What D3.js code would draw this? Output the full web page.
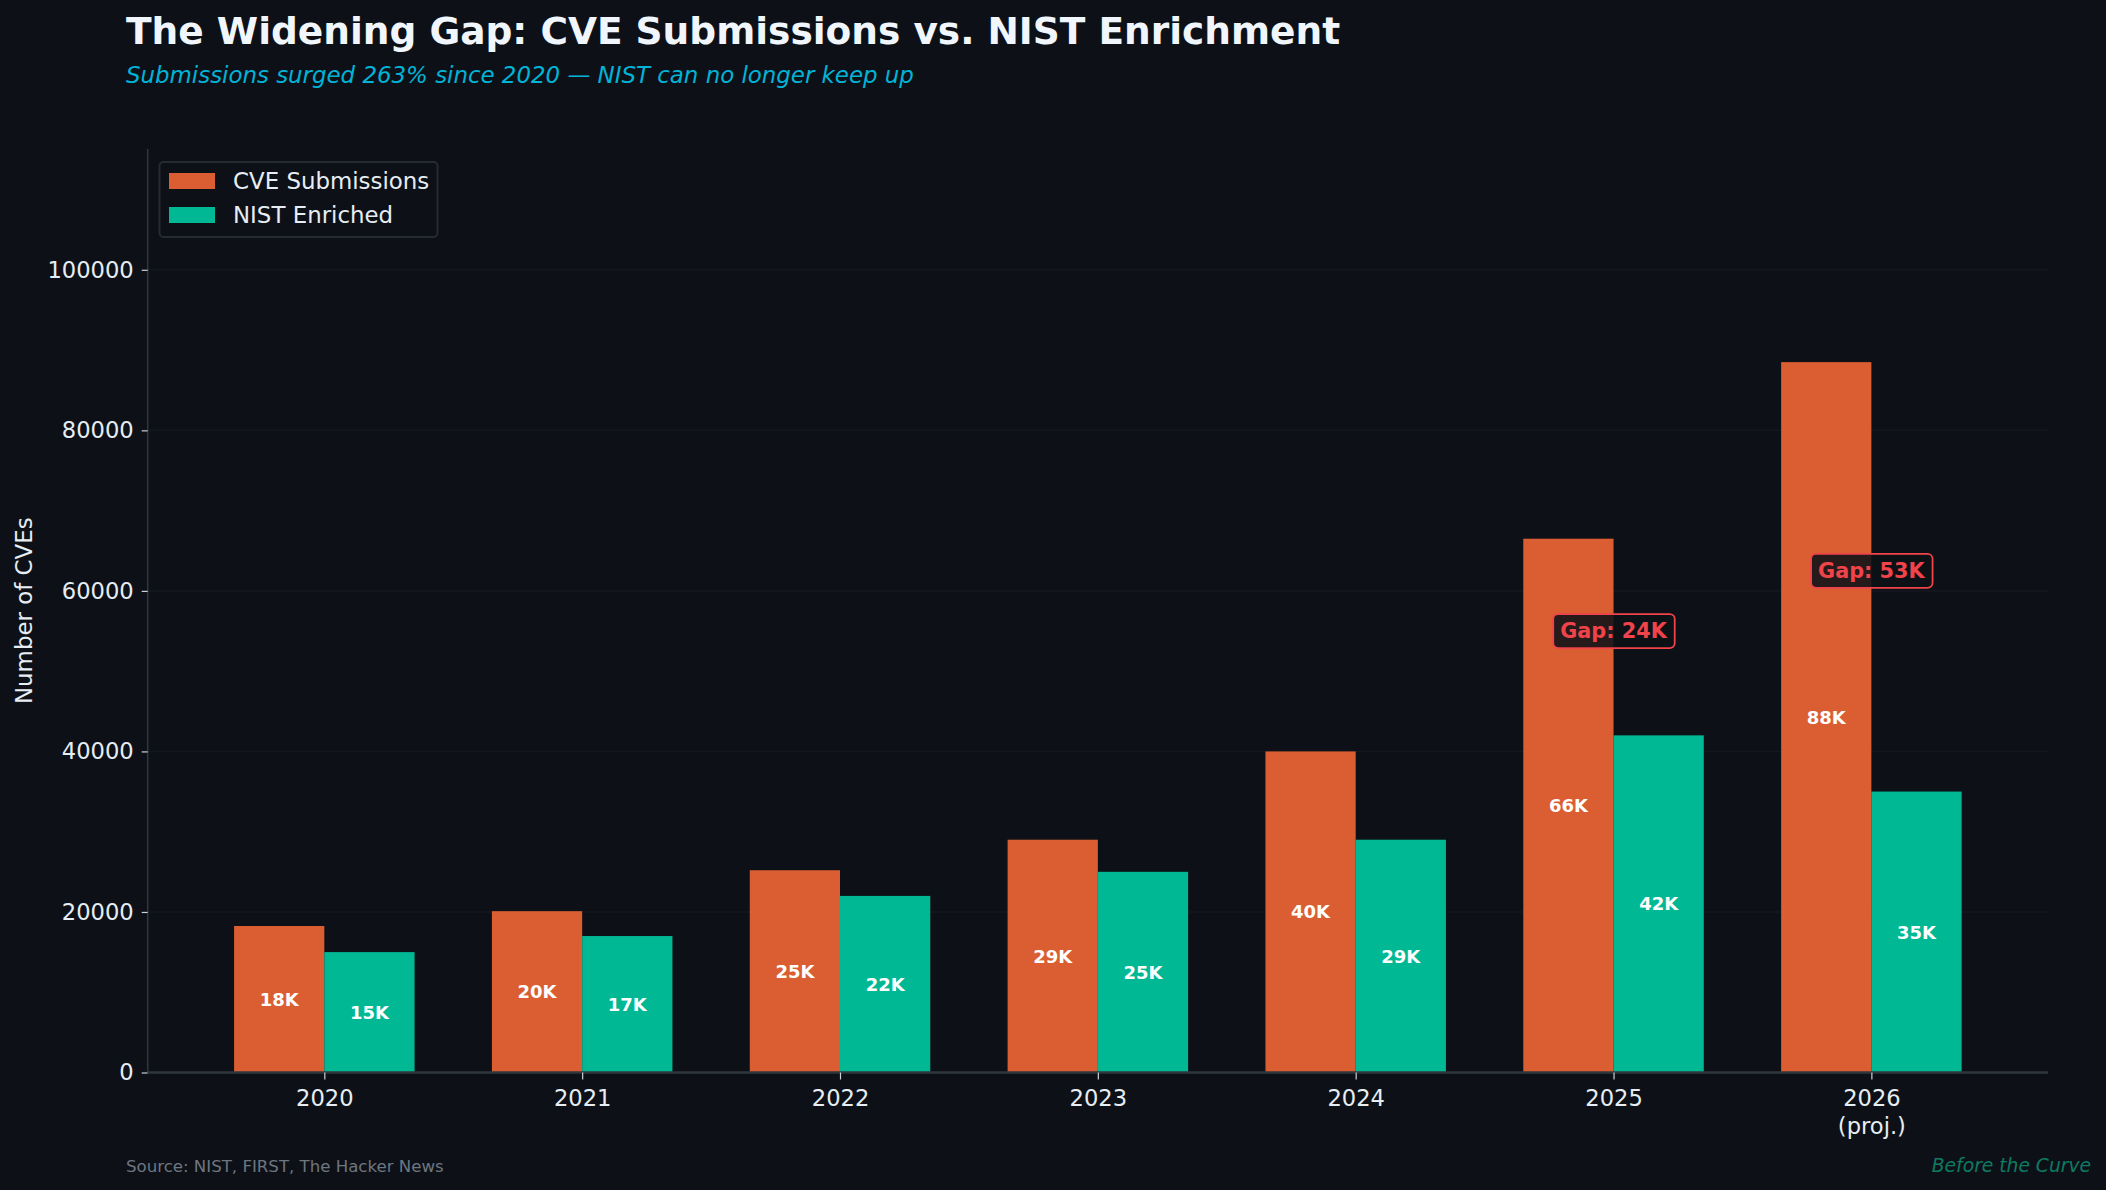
<!DOCTYPE html>
<html>
<head>
<meta charset="utf-8">
<script src="https://cdn.jsdelivr.net/npm/d3@7"></script>
<style>
  html, body { margin: 0; padding: 0; background: #0d1117; }
  svg { display: block; }
  text { font-family: "DejaVu Sans", sans-serif; }
</style>
</head>
<body>
<svg id="chart" width="2106" height="1190"></svg>
<script>
// ---- Data ----
const years = ["2020", "2021", "2022", "2023", "2024", "2025", "2026"];
const yearSublabels = ["", "", "", "", "", "", "(proj.)"];
const cveSubmissions = [18250, 20100, 25200, 29000, 40000, 66500, 88500];
const nistEnriched = [15000, 17000, 22000, 25000, 29000, 42000, 35000];
const seriesNames = ["CVE Submissions", "NIST Enriched"];
const yTicks = [0, 20000, 40000, 60000, 80000, 100000];

// ---- Styles ----
const BG = "#0d1117";
const ORANGE = "#da5e31";
const TEAL = "#00b894";
const RED = "#f0434a";
const TEXT = "#e6edf3";

const svg = d3.select("#chart");
svg.append("rect").attr("width", 2106).attr("height", 1190).attr("fill", BG);

const plot = { left: 147.7, right: 2048, top: 149, bottom: 1072.5 };
const barW = 0.35;

const x = d3.scaleLinear().domain([-0.685, years.length - 1 + 0.685]).range([plot.left, plot.right]);
const yMax = d3.max(cveSubmissions) * 1.3;
const y = d3.scaleLinear().domain([0, yMax]).range([plot.bottom, plot.top]);

// Grid
svg.append("g").selectAll("line").data(yTicks.slice(1)).join("line")
  .attr("x1", plot.left).attr("x2", plot.right)
  .attr("y1", d => y(d)).attr("y2", d => y(d))
  .attr("stroke", "#ffffff").attr("stroke-opacity", 0.03).attr("stroke-width", 1.5);

// Bars
const series = [
  { name: seriesNames[0], values: cveSubmissions, color: ORANGE, off: -barW / 2 },
  { name: seriesNames[1], values: nistEnriched, color: TEAL, off: barW / 2 }
];
const fmtK = v => Math.floor(v / 1000) + "K";

series.forEach(s => {
  const g = svg.append("g");
  g.selectAll("rect").data(s.values).join("rect")
    .attr("x", (d, i) => x(i + s.off - barW / 2))
    .attr("width", (d, i) => x(i + s.off + barW / 2) - x(i + s.off - barW / 2))
    .attr("y", d => y(d))
    .attr("height", d => y(0) - y(d))
    .attr("fill", s.color);
  g.selectAll("text").data(s.values).join("text")
    .attr("x", (d, i) => x(i + s.off))
    .attr("y", d => y(d / 2))
    .attr("text-anchor", "middle")
    .attr("dominant-baseline", "central")
    .attr("fill", "#ffffff")
    .attr("font-weight", "bold")
    .attr("font-size", "18px")
    .text(d => fmtK(d));
});

// Axes: left spine and ticks
const yAxis = d3.axisLeft(y).tickValues(yTicks).tickSize(6).tickPadding(8).tickFormat(d3.format("d"));
const gy = svg.append("g").attr("transform", `translate(${plot.left},0)`).call(yAxis);
gy.select(".domain").attr("stroke", "#30363d").attr("stroke-width", 1.5)
  .attr("d", `M0,${plot.top}V${plot.bottom}`);
gy.selectAll(".tick line").attr("stroke", "#c9d1d9").attr("stroke-width", 1.2);
gy.selectAll(".tick text").attr("fill", TEXT).attr("font-size", "22.6px")
  .attr("font-family", "DejaVu Sans");

// Bottom axis
const xAxis = d3.axisBottom(x).tickValues(d3.range(years.length)).tickSize(7).tickPadding(10.5)
  .tickFormat(i => years[i]);
const gx = svg.append("g").attr("transform", `translate(0,${plot.bottom})`).call(xAxis);
gx.select(".domain").attr("stroke", "#30363d").attr("stroke-width", 2.5)
  .attr("d", `M${plot.left},0H${plot.right}`);
gx.selectAll(".tick line").attr("stroke", "#c9d1d9").attr("stroke-width", 1.2);
gx.selectAll(".tick text").attr("fill", TEXT).attr("font-size", "22.6px")
  .attr("font-family", "DejaVu Sans");
gx.selectAll(".tick").each(function(i) {
  if (yearSublabels[i]) {
    d3.select(this).append("text")
      .attr("fill", TEXT).attr("font-size", "22.6px").attr("font-family", "DejaVu Sans")
      .attr("text-anchor", "middle")
      .attr("y", 17.5 + 27.5).attr("dy", "0.71em")
      .text(yearSublabels[i]);
  }
});

// Y label
svg.append("text")
  .attr("transform", `translate(32,${(plot.top + plot.bottom) / 2}) rotate(-90)`)
  .attr("text-anchor", "middle")
  .attr("fill", TEXT).attr("font-size", "22.9px")
  .text("Number of CVEs");

// Gap annotations
const gapG = svg.append("g");
years.forEach((yr, i) => {
  const gap = cveSubmissions[i] - nistEnriched[i];
  if (gap <= 20000) return;
  const cx = x(i), cy = y((cveSubmissions[i] + nistEnriched[i]) / 2) - 6;
  const box = gapG.append("rect");
  const t = gapG.append("text")
    .attr("x", cx).attr("y", cy)
    .attr("text-anchor", "middle").attr("dominant-baseline", "central")
    .attr("fill", RED).attr("font-weight", "bold").attr("font-size", "20.8px")
    .text("Gap: " + fmtK(gap));
  const bb = t.node().getBBox();
  const pad = 7;
  box.attr("x", bb.x - pad).attr("y", cy - 17)
    .attr("width", bb.width + 2 * pad).attr("height", 34)
    .attr("rx", 5).attr("ry", 5)
    .attr("fill", BG).attr("fill-opacity", 0.88)
    .attr("stroke", RED).attr("stroke-width", 1.8);
});

// Legend
const lg = svg.append("g");
lg.append("rect").attr("x", 159.5).attr("y", 162).attr("width", 278).attr("height", 75)
  .attr("rx", 4).attr("fill", BG).attr("stroke", "#262a31").attr("stroke-width", 2);
series.forEach((s, k) => {
  const ry = 173 + k * 34;
  lg.append("rect").attr("x", 169).attr("y", ry).attr("width", 46).attr("height", 16).attr("fill", s.color);
  lg.append("text").attr("x", 233).attr("y", ry + 8).attr("dominant-baseline", "central")
    .attr("fill", TEXT).attr("font-size", "22.9px").text(s.name);
});

// Title & subtitle
svg.append("text").attr("x", 126).attr("y", 43.5)
  .attr("fill", "#f0f6fc").attr("font-weight", "bold").attr("font-size", "37.5px")
  .text("The Widening Gap: CVE Submissions vs. NIST Enrichment");
svg.append("text").attr("x", 126).attr("y", 82.5)
  .attr("fill", "#00b4d8").attr("font-style", "italic").attr("font-size", "22.9px")
  .text("Submissions surged 263% since 2020 \u2014 NIST can no longer keep up");

// Footer
svg.append("text").attr("x", 126).attr("y", 1171.7)
  .attr("fill", "#6e7681").attr("font-size", "16.6px")
  .text("Source: NIST, FIRST, The Hacker News");
svg.append("text").attr("x", 2091).attr("y", 1171.7).attr("text-anchor", "end")
  .attr("fill", "#0e7a62").attr("font-style", "italic").attr("font-size", "18.7px")
  .text("Before the Curve");
</script>
</body>
</html>
